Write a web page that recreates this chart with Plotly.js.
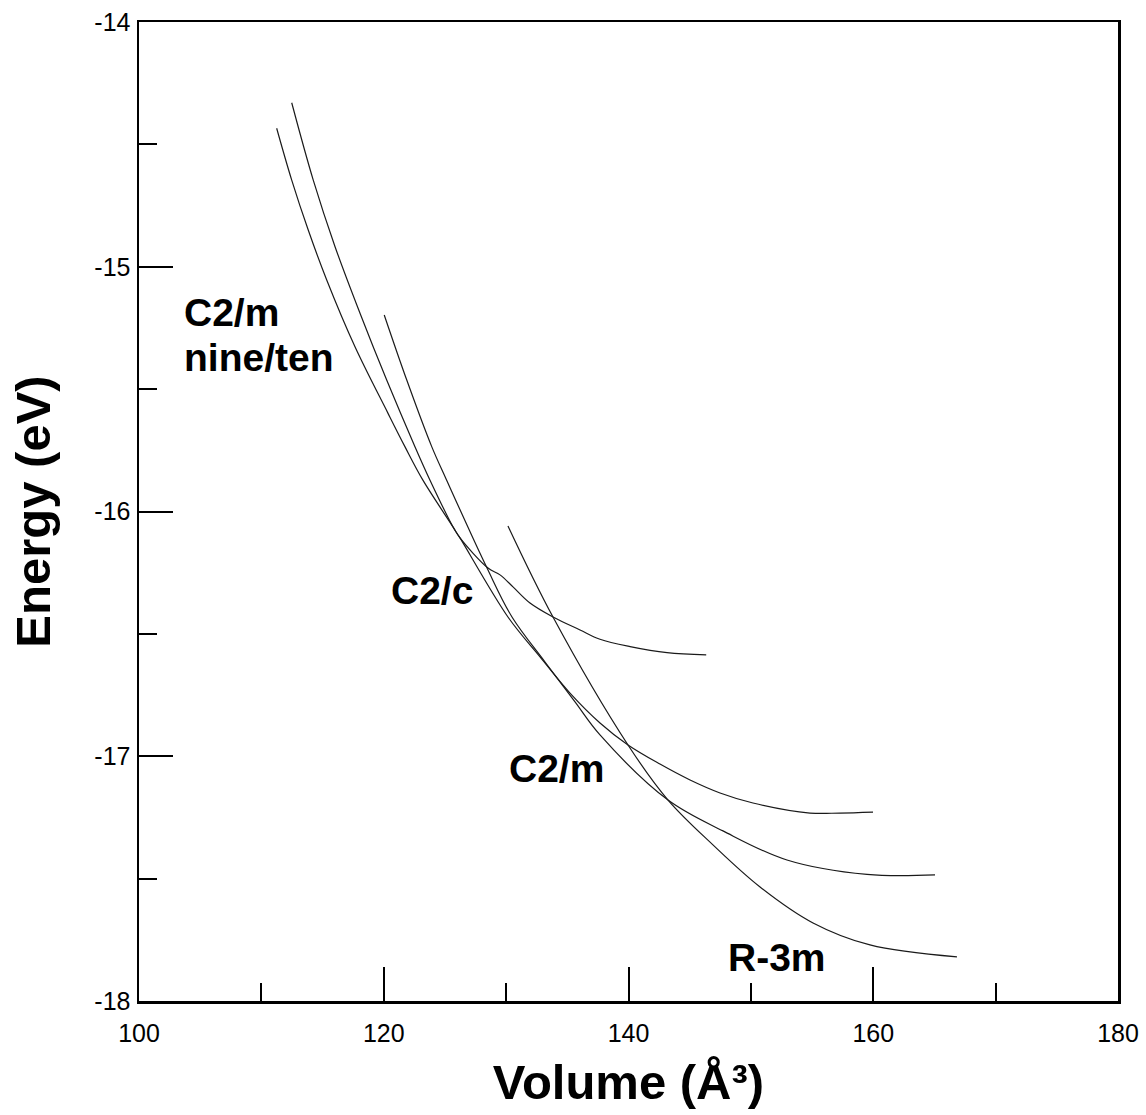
<!DOCTYPE html>
<html>
<head>
<meta charset="utf-8">
<script src="https://cdn.plot.ly/plotly-3.0.1.min.js"></script>
<style>html,body{margin:0;padding:0;background:#fff;}#chart{width:1146px;height:1115px;}</style>
</head>
<body>
<div id="chart"></div>
<script>
// C2/c curve
const c2cVol = [111.25,112.48,113.83,115.34,117.65,120.34,121.73,123.20,125.66,126.23,128.52,129.50,130.56,131.95,133.83,136.04,137.67,140.13,143.15,146.35];
const c2cE   = [-14.434,-14.646,-14.850,-15.054,-15.327,-15.598,-15.735,-15.872,-16.063,-16.108,-16.231,-16.259,-16.308,-16.374,-16.431,-16.484,-16.522,-16.552,-16.577,-16.586];
// C2/m nine curve
const nineVol = [112.48,114.24,116.02,118.06,120.24,122.55,123.78,125.66,126.23,130.15,132.77,135.22,137.67,139.96,142.57,145.03,147.48,150.17,154.83,157.28,159.98];
const nineE   = [-14.330,-14.646,-14.918,-15.190,-15.463,-15.735,-15.872,-16.063,-16.108,-16.431,-16.594,-16.742,-16.864,-16.954,-17.032,-17.097,-17.150,-17.191,-17.232,-17.232,-17.228];
// C2/m ten curve
const tenVol = [120.04,121.88,123.92,125.14,128.44,130.48,133.18,135.63,137.67,143.23,147.72,152.95,159.49,165.05];
const tenE   = [-15.197,-15.463,-15.735,-15.872,-16.231,-16.431,-16.615,-16.778,-16.913,-17.179,-17.305,-17.424,-17.483,-17.485];
// R-3m curve
const r3mVol = [130.15,133.83,139.96,143.23,146.90,150.75,155.08,159.73,166.84];
const r3mE   = [-16.059,-16.431,-16.954,-17.179,-17.362,-17.534,-17.681,-17.771,-17.820];

const xTickVals = [100,120,140,160,180];
const xTickText = ['100','120','140','160','180'];
const yTickVals = [-14,-15,-16,-17,-18];
const yTickText = ['-14','-15','-16','-17','-18'];

const labelText = ['C2/m','nine/ten','C2/c','C2/m','R-3m'];
const labelX = [103.5,103.5,120.4,130.1,147.95];
const labelY = [-15.185,-15.369,-16.321,-17.048,-17.824];

const lineStyle = {color:'#1a1a1a', width:1.2, shape:'spline', smoothing:1};
const traces = [
  {x:c2cVol, y:c2cE, mode:'lines', line:lineStyle, name:'C2/c'},
  {x:nineVol, y:nineE, mode:'lines', line:lineStyle, name:'C2/m nine'},
  {x:tenVol, y:tenE, mode:'lines', line:lineStyle, name:'C2/m ten'},
  {x:r3mVol, y:r3mE, mode:'lines', line:lineStyle, name:'R-3m'}
];

const fontFam = 'Liberation Sans, Arial, sans-serif';
const layout = {
  width:1146, height:1115,
  margin:{l:139, r:28, t:22, b:114},
  paper_bgcolor:'#fff', plot_bgcolor:'#fff',
  showlegend:false,
  font:{family:fontFam, color:'#000'},
  xaxis:{
    range:[100,180], showgrid:false, zeroline:false,
    showline:true, mirror:true, linecolor:'#000', linewidth:2.5,
    ticks:'inside', ticklen:34, tickwidth:2, tickcolor:'#000',
    tickvals:xTickVals, ticktext:xTickText,
    tickfont:{size:25, family:fontFam, color:'#000'},
    ticklabelstandoff:8,
    minor:{ticks:'inside', ticklen:18, tickwidth:2, tickcolor:'#000', dtick:10, showgrid:false},
    title:{text:'<b>Volume (Å³)</b>', font:{size:49, family:fontFam, color:'#000'}, standoff:19}
  },
  yaxis:{
    range:[-18,-14], showgrid:false, zeroline:false,
    showline:true, mirror:true, linecolor:'#000', linewidth:2.5,
    ticks:'inside', ticklen:34, tickwidth:2, tickcolor:'#000',
    tickvals:yTickVals, ticktext:yTickText,
    tickfont:{size:25, family:fontFam, color:'#000'},
    ticklabelstandoff:1,
    minor:{ticks:'inside', ticklen:18, tickwidth:2, tickcolor:'#000', dtick:0.5, showgrid:false},
    title:{text:'<b>Energy (eV)</b>', font:{size:49, family:fontFam, color:'#000'}, standoff:28}
  },
  annotations: labelText.map((t,i)=>({
    x:labelX[i], y:labelY[i], xref:'x', yref:'y', text:'<b>'+t+'</b>',
    showarrow:false, xanchor:'left', yanchor:'middle',
    font:{size:39, family:fontFam, color:'#000'}
  }))
};
Plotly.newPlot('chart', traces, layout, {displayModeBar:false, staticPlot:true});
</script>
</body>
</html>
